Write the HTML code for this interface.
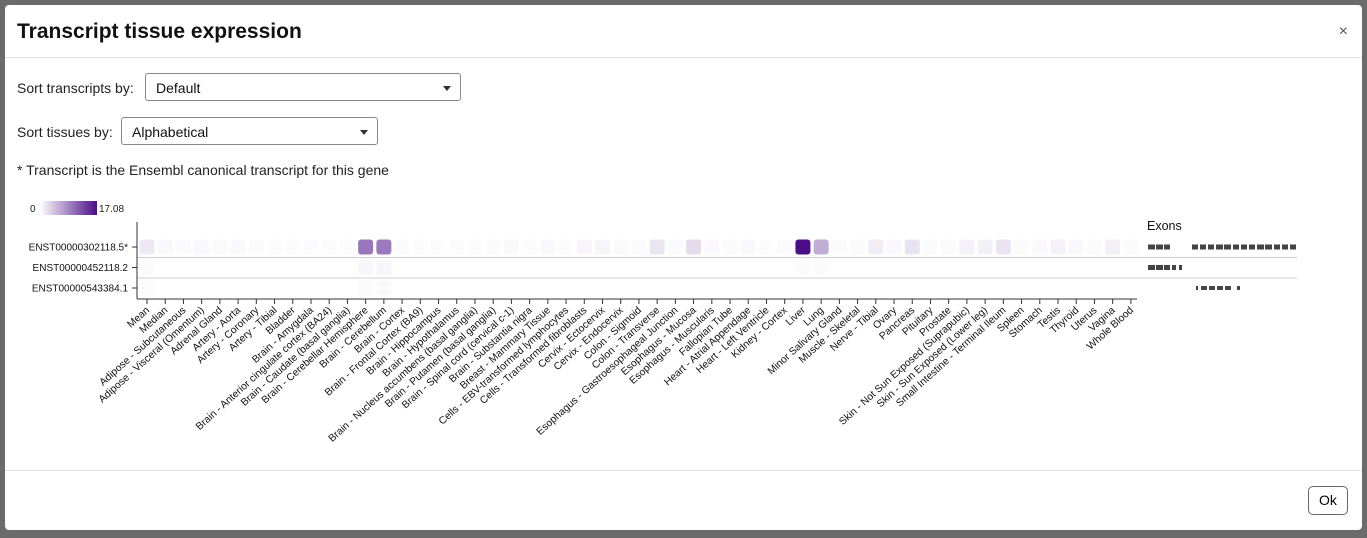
<!DOCTYPE html>
<html><head><meta charset="utf-8">
<style>
body{margin:0;width:1367px;height:538px;background:#6b6b6b;font-family:"Liberation Sans",Arial,sans-serif;overflow:hidden;position:relative}
#modal{position:absolute;left:5px;top:5px;width:1357px;height:525px;background:#fff;border-radius:4px}
.hdr{position:absolute;left:0;top:0;width:1357px;height:52px;border-bottom:1px solid #e5e5e5}
.title{position:absolute;left:12px;top:15px;font-size:21px;font-weight:bold;color:#111}
.close{position:absolute;right:14px;top:18px;font-size:16px;color:#555}
.lbl{position:absolute;font-size:14px;color:#222}
.sel{position:absolute;height:28px;border:1px solid #888;border-radius:3px;background:#fff;font-size:14px;box-sizing:border-box;padding:6px 10px;color:#111}
.sel:after{content:"";position:absolute;right:9px;top:12px;border-left:4px solid transparent;border-right:4px solid transparent;border-top:5px solid #333}
.ftr{position:absolute;left:0;top:465px;width:1357px;height:1px;background:#e5e5e5}
.ok{position:absolute;left:1303px;top:481px;width:40px;height:29px;border:1px solid #666;border-radius:5px;box-sizing:border-box;font-size:14px;text-align:center;line-height:27px;background:#fff}
</style></head><body>
<div id="modal">
 <div class="hdr">
  <div class="title">Transcript tissue expression</div>
  <div class="close">×</div>
 </div>
 <div class="lbl" style="left:12px;top:75px">Sort transcripts by:</div>
 <div class="sel" style="left:140px;top:68px;width:316px">Default</div>
 <div class="lbl" style="left:12px;top:119px">Sort tissues by:</div>
 <div class="sel" style="left:116px;top:112px;width:257px">Alphabetical</div>
 <div class="lbl" style="left:12px;top:157px">* Transcript is the Ensembl canonical transcript for this gene</div>
 <div class="ftr"></div>
 <div class="ok">Ok</div>
</div>
<svg id="chart" width="1367" height="538" style="position:absolute;left:0;top:0"></svg>
<script>
const tissues=["Mean","Median","Adipose - Subcutaneous","Adipose - Visceral (Omentum)","Adrenal Gland","Artery - Aorta","Artery - Coronary","Artery - Tibial","Bladder","Brain - Amygdala","Brain - Anterior cingulate cortex (BA24)","Brain - Caudate (basal ganglia)","Brain - Cerebellar Hemisphere","Brain - Cerebellum","Brain - Cortex","Brain - Frontal Cortex (BA9)","Brain - Hippocampus","Brain - Hypothalamus","Brain - Nucleus accumbens (basal ganglia)","Brain - Putamen (basal ganglia)","Brain - Spinal cord (cervical c-1)","Brain - Substantia nigra","Breast - Mammary Tissue","Cells - EBV-transformed lymphocytes","Cells - Transformed fibroblasts","Cervix - Ectocervix","Cervix - Endocervix","Colon - Sigmoid","Colon - Transverse","Esophagus - Gastroesophageal Junction","Esophagus - Mucosa","Esophagus - Muscularis","Fallopian Tube","Heart - Atrial Appendage","Heart - Left Ventricle","Kidney - Cortex","Liver","Lung","Minor Salivary Gland","Muscle - Skeletal","Nerve - Tibial","Ovary","Pancreas","Pituitary","Prostate","Skin - Not Sun Exposed (Suprapubic)","Skin - Sun Exposed (Lower leg)","Small Intestine - Terminal Ileum","Spleen","Stomach","Testis","Thyroid","Uterus","Vagina","Whole Blood"];
const transcripts=["ENST00000302118.5*","ENST00000452118.2","ENST00000543384.1"];
const maxValue=17.08;
const row0=[1.4,0.2,0.05,0.2,0.05,0.2,0.05,0.02,0.02,0.02,0.02,0.02,9.6,9.3,0.05,0.02,0.02,0.02,0.02,0.1,0.2,0.02,0.2,0.02,0.5,0.4,0.15,0.1,1.6,0.1,2.3,0.2,0.1,0.2,0.02,0.05,17.08,5.6,0.05,0.05,1.0,0.2,1.8,0.05,0.1,0.7,0.8,1.7,0.05,0.2,0.7,0.2,0.05,0.9,0.05];
const row1=[0.1,0,0,0,0,0,0,0,0,0,0,0,0.35,0.35,0,0,0,0,0,0,0,0,0,0,0,0,0,0,0,0,0,0,0,0,0,0,0.05,0.05,0,0,0,0,0,0,0,0,0,0,0,0,0,0,0,0,0];
const row2=[0.05,0,0,0,0,0,0,0,0,0,0,0,0.15,0.15,0,0,0,0,0,0,0,0,0,0,0,0,0,0,0,0,0,0,0,0,0,0,0,0,0,0,0,0,0,0,0,0,0,0,0,0,0,0,0];
const values=[row0,row1,row2];
const exons0=[[0,7],[8,15],[16,22],[44,50],[52,58],[60,66],[68,75],[76,83],[85,91],[93,99],[101,107],[109,116],[117,124],[126,132],[134,140],[142,148]];
const exons1=[[0,7],[8,15],[16,22],[24,28],[31,34]];
const exons2=[[48,50],[53,59],[61,67],[69,75],[77,83],[89,92]];
const exonRows=[exons0,exons1,exons2];

const NS="http://www.w3.org/2000/svg";
const svg=document.getElementById('chart');
function el(t,a,p){const e=document.createElementNS(NS,t);for(const k in a)e.setAttribute(k,a[k]);(p||svg).appendChild(e);return e;}
const x0=137,step=18.22,xFirst=147;
const xScale=i=>xFirst+i*step;
const yScale=j=>247+j*20.5;
function color(v){const t=Math.min(1,v/maxValue);const a=[252,251,253],b=[74,14,135];
 return `rgb(${a.map((c,k)=>Math.round(c+(b[k]-c)*t)).join(',')})`;}
const defs=el('defs',{});const g=el('linearGradient',{id:'lg'},defs);
el('stop',{offset:'0','stop-color':'#fff'},g);el('stop',{offset:'1','stop-color':'#4a0e87'},g);
let e=el('rect',{x:40,y:201,width:57,height:14,fill:'url(#lg)'});

e=el('text',{x:30,y:212,'font-size':10,fill:'#222'});e.textContent='0';

e=el('text',{x:99,y:212,'font-size':10,fill:'#222'});e.textContent=maxValue.toFixed(2);

[257.5,278].forEach(y=>{e=el('line',{x1:x0,x2:1297,y1:y,y2:y,stroke:'#ccc'});
 });
values.forEach((row,j)=>row.forEach((v,i)=>{if(v<=0)return;
 e=el('rect',{x:xScale(i)-7.5,y:yScale(j)-7.5,width:15,height:15,rx:3,fill:color(v)});
 }));
e=el('line',{x1:x0,x2:x0,y1:222,y2:299,stroke:'#333'});

e=el('line',{x1:x0,x2:1137,y1:299,y2:299,stroke:'#333'});

transcripts.forEach((t,j)=>{const y=yScale(j);
 el('line',{x1:x0-5,x2:x0,y1:y,y2:y,stroke:'#333'});
 e=el('text',{x:x0-9,y:y+3.5,'font-size':10,'text-anchor':'end',fill:'#111'});e.textContent=t;
 });
tissues.forEach((t,i)=>{const x=xScale(i);
 el('line',{x1:x,x2:x,y1:299,y2:304,stroke:'#333'});
 e=el('text',{x:0,y:0,'font-size':10.3,'text-anchor':'end',fill:'#111',transform:`translate(${x+3},${311}) rotate(-42)`});e.textContent=t;
 });
e=el('text',{x:1147,y:230,'font-size':12.5,fill:'#111'});e.textContent='Exons';

exonRows.forEach((row,j)=>{const y=yScale(j);const h=j==2?4:5;
 row.forEach(([s,f])=>{e=el('rect',{x:1148+s,y:y-h/2,width:f-s,height:h,fill:'#444'});
  });});
</script>
</body></html>
